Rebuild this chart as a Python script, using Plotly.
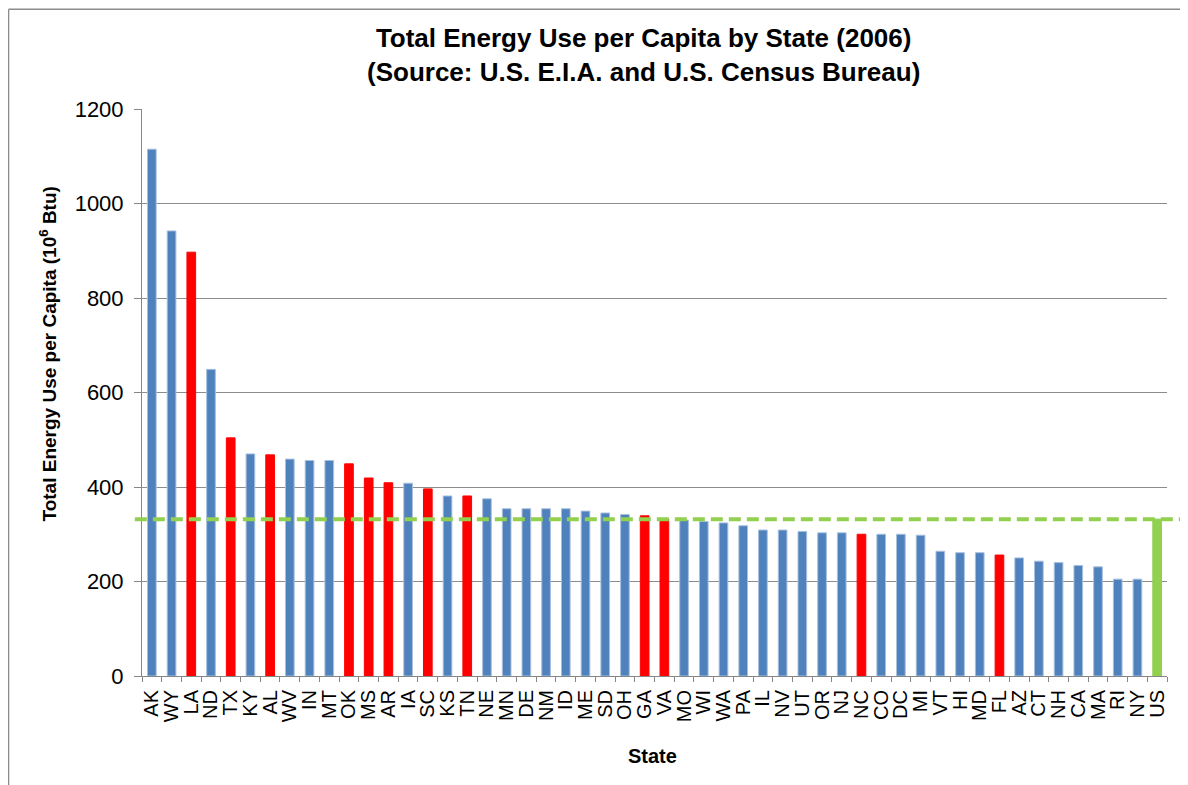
import plotly.graph_objects as go

states = ["AK", "WY", "LA", "ND", "TX", "KY", "AL", "WV", "IN", "MT", "OK", "MS", "AR",
          "IA", "SC", "KS", "TN", "NE", "MN", "DE", "NM", "ID", "ME", "SD", "OH", "GA",
          "VA", "MO", "WI", "WA", "PA", "IL", "NV", "UT", "OR", "NJ", "NC", "CO", "DC",
          "MI", "VT", "HI", "MD", "FL", "AZ", "CT", "NH", "CA", "MA", "RI", "NY", "US"]
energy = [1115, 942, 897, 649, 504, 470, 468, 459, 456, 456, 449, 419, 409,
          408, 396, 381, 381, 375, 354, 354, 354, 354, 349, 345, 342, 339,
          332, 330, 327, 324, 318, 309, 309, 306, 303, 303, 300, 300, 300,
          298, 264, 261, 261, 256, 250, 243, 240, 234, 231, 205, 205, 332]
highlight_states = ["LA", "TX", "AL", "OK", "MS", "AR", "SC", "TN", "GA", "VA", "NC", "FL"]
average_label = "US"
y_ticks = [0, 200, 400, 600, 800, 1000, 1200]

BLUE, RED, GREEN = "#4F81BD", "#FF0000", "#92D050"
colors, edge_colors = [], []
for s in states:
    if s == average_label:
        colors.append(GREEN); edge_colors.append(GREEN)
    elif s in highlight_states:
        colors.append(RED); edge_colors.append(RED)
    else:
        colors.append(BLUE); edge_colors.append("#A7C0DE")

us_value = energy[states.index(average_label)]

FONT = "Liberation Sans, Arial, sans-serif"

fig = go.Figure(go.Bar(
    x=states, y=energy,
    marker=dict(color=colors, line=dict(color=edge_colors, width=1)),
    width=0.44,
    showlegend=False,
))

# page body adds an 8px offset, margins compensate for it
fig.update_layout(
    width=1188, height=785,
    margin=dict(l=134, r=29, t=101, b=117),
    paper_bgcolor="white", plot_bgcolor="white",
    font=dict(family=FONT, color="black"),
)

fig.update_xaxes(
    type="category",
    tickmode="array", tickvals=states, ticktext=states,
    tickangle=-90,
    tickfont=dict(size=20, family=FONT, color="black"),
    ticks="outside", tickson="boundaries", ticklen=5, tickcolor="#868686",
    ticklabelstandoff=5,
    showline=True, linecolor="#868686", linewidth=1,
    showgrid=False,
    range=[-0.5, len(states) - 0.5],
    automargin=False,
)
fig.update_yaxes(
    range=[0, 1200],
    tickvals=y_ticks,
    tickfont=dict(size=22, family=FONT, color="black"),
    ticks="outside", ticklen=7, tickcolor="#868686",
    ticklabelstandoff=6,
    showline=True, linecolor="#868686", linewidth=1,
    showgrid=True, gridcolor="#8C8C8C", gridwidth=1,
    zeroline=False,
    automargin=False,
)

# US average dashed line
fig.add_shape(type="line", xref="paper", yref="y",
              x0=-0.007, x1=1.0127, y0=us_value, y1=us_value,
              line=dict(color=GREEN, width=4, dash="12px,6px"), layer="above")

# outer chart border
fig.add_shape(type="line", xref="paper", yref="paper",
              x0=-0.1302, x1=-0.1302, y0=1.176, y1=-0.25,
              line=dict(color="#8C8C8C", width=1.5))
fig.add_shape(type="line", xref="paper", yref="paper",
              x0=-0.1302, x1=1.05, y0=1.176, y1=1.176,
              line=dict(color="#8C8C8C", width=1.5))

fig.add_annotation(
    text="<b>Total Energy Use per Capita by State (2006)<br>(Source: U.S. E.I.A. and U.S. Census Bureau)</b>",
    xref="paper", yref="paper", x=0.4888, y=1.095,
    xanchor="center", yanchor="middle", showarrow=False,
    font=dict(size=26, family=FONT, color="black"),
)
fig.add_annotation(
    text="<b>Total Energy Use per Capita (10<sup>6</sup> Btu)</b>",
    xref="paper", yref="paper", x=-0.0917, y=0.567,
    xanchor="center", yanchor="middle", textangle=-90, showarrow=False,
    font=dict(size=19, family=FONT, color="black"),
)
fig.add_annotation(
    text="<b>State</b>",
    xref="paper", yref="paper", x=0.4976, y=-0.141,
    xanchor="center", yanchor="middle", showarrow=False,
    font=dict(size=20, family=FONT, color="black"),
)

fig.write_html("out.html")
